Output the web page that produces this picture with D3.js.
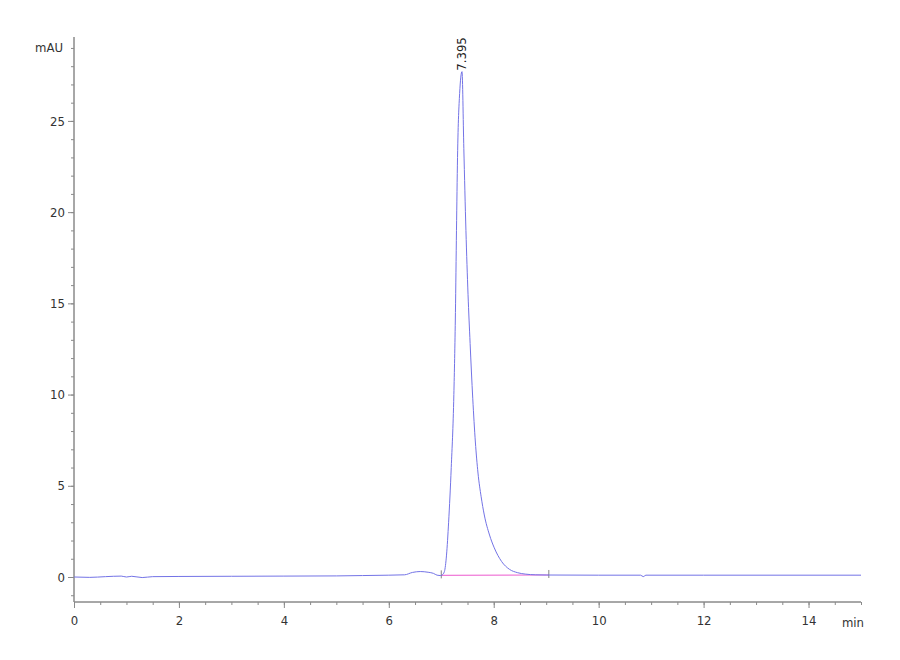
<!DOCTYPE html>
<html><head><meta charset="utf-8">
<script src="https://cdn.jsdelivr.net/npm/d3@7"></script>
<style>
body{margin:0;background:#fff;}
text{font-family:"Liberation Sans Narrow","Arial Narrow","DejaVu Sans Condensed","Liberation Sans",sans-serif;}
</style></head>
<body><svg id="c" width="900" height="660"></svg>
<script>
const times = [0,0.3,0.6,0.9,1.0,1.1,1.3,1.5,2,3,4,5,5.5,6.0,6.3,6.45,6.6,6.75,6.85,6.92,6.98,7.02,7.06,7.10,7.14,7.19,7.24,7.27,7.29,7.31,7.35,7.395,7.43,7.47,7.51,7.55,7.60,7.65,7.70,7.76,7.82,7.92,8.01,8.15,8.3,8.45,8.6,8.8,9.0,10,10.8,10.85,10.9,12,15];
const mAU   = [0,-0.02,0.02,0.05,0.0,0.04,-0.03,0.02,0.03,0.04,0.05,0.06,0.08,0.1,0.12,0.25,0.3,0.26,0.2,0.1,0.08,0.12,0.3,1.2,3.0,6.0,10.0,14.5,19,23,26.5,27.7,23.5,19,15.5,12.8,9.8,7.4,5.7,4.4,3.4,2.3,1.6,0.85,0.42,0.24,0.16,0.12,0.11,0.1,0.1,0.02,0.1,0.1,0.1];
const baselineT = [7.0, 9.05];
const baselineV = [0.09, 0.11];
const peakLabel = "7.395";
const peakT = 7.395, peakV = 27.7;
const xMajor = [0,2,4,6,8,10,12,14];
const yMajor = [0,5,10,15,20,25];

const svg = d3.select("#c");
const x = d3.scaleLinear().domain([0,15]).range([74,861]);
const y = d3.scaleLinear().domain([-1.37,29.6]).range([602,37]);
const axisCol = "#8a8a8a", textCol = "#333";

// x axis
const xMinor = d3.range(0,15.01,0.5);
const gx = svg.append("g").attr("transform","translate(0,602)");
gx.call(d3.axisBottom(x).tickValues(xMinor).tickSize(3).tickFormat(""));
gx.call(g=>g.append("g").call(d3.axisBottom(x).tickValues(xMajor).tickSize(6).tickFormat(d3.format("d"))));
gx.selectAll("path,line").attr("stroke",axisCol);
gx.selectAll(".domain").attr("d",`M${x(0)},0H${x(15)}`);
gx.selectAll("text").attr("fill",textCol).attr("font-size",13).attr("dy","1.05em");
svg.append("text").attr("x",853).attr("y",627).attr("text-anchor","middle").attr("fill",textCol).attr("font-size",13).text("min");

// y axis
const yMinor = d3.range(-1,30,1);
const gy = svg.append("g").attr("transform","translate(74,0)");
gy.call(d3.axisLeft(y).tickValues(yMinor).tickSize(3).tickFormat(""));
gy.call(g=>g.append("g").call(d3.axisLeft(y).tickValues(yMajor).tickSize(6).tickFormat(d3.format("d"))));
gy.selectAll("path,line").attr("stroke",axisCol);
gy.selectAll(".domain").attr("d",`M0,${y(-1.37)}V${y(29.6)}`);
gy.selectAll("text").attr("fill",textCol).attr("font-size",13);
svg.append("text").attr("x",63).attr("y",y(29)).attr("dy","0.32em").attr("text-anchor","end").attr("fill",textCol).attr("font-size",13).text("mAU");

// baseline
svg.append("line").attr("x1",x(baselineT[0])).attr("x2",x(baselineT[1])).attr("y1",y(baselineV[0])).attr("y2",y(baselineV[1])).attr("stroke","#f07ad8").attr("stroke-width",1.2);
baselineT.forEach((t,i)=>svg.append("line").attr("x1",x(t)).attr("x2",x(t)).attr("y1",y(baselineV[i])-5).attr("y2",y(baselineV[i])+3).attr("stroke","#666").attr("stroke-width",0.8));

// signal
const line = d3.line().x((d,i)=>x(times[i])).y((d,i)=>y(mAU[i])).curve(d3.curveMonotoneX);
svg.append("path").datum(mAU).attr("d",line).attr("fill","none").attr("stroke","#7373e6").attr("stroke-width",1);

// peak label
svg.append("text").attr("transform",`translate(${x(peakT)+4},${y(peakV)-1}) rotate(-90)`).attr("fill","#222").attr("font-size",13).text(peakLabel);
</script></body></html>
